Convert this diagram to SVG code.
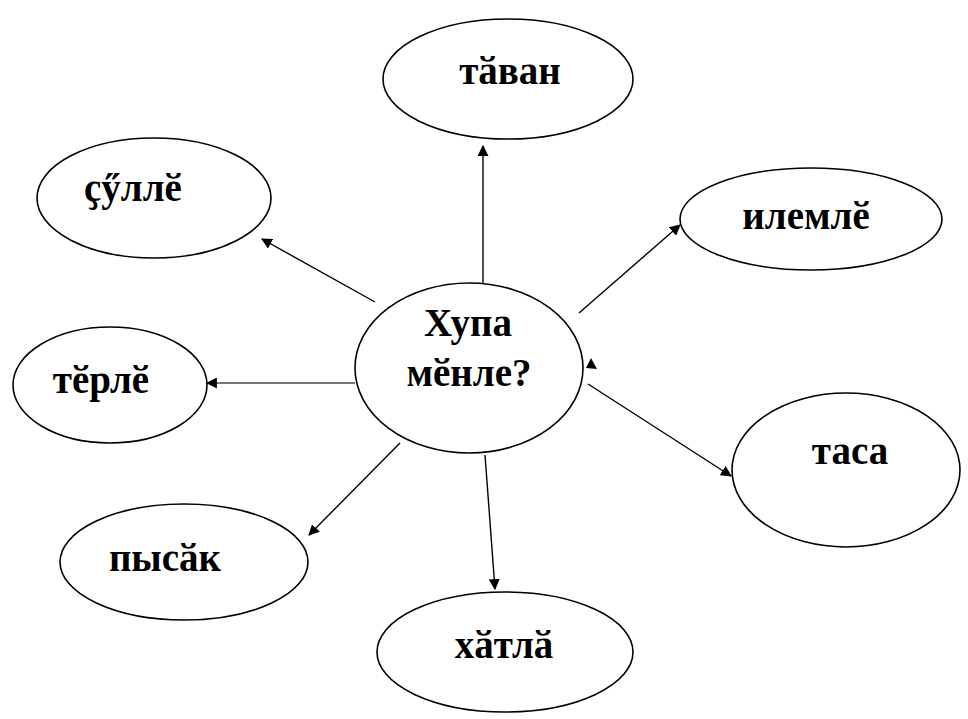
<svg xmlns="http://www.w3.org/2000/svg" width="968" height="719" viewBox="0 0 968 719">
<style>
.n{fill:#fff;stroke:#000;stroke-width:1.6}
.t{font-family:"Liberation Serif","Times New Roman",serif;font-weight:bold;font-size:39px;fill:#000;text-anchor:middle}
.c{stroke:#000;stroke-width:1.4;fill:none}
.g{stroke:#777;stroke-width:2;fill:none}
</style>
<defs>
<marker id="ah" viewBox="0 0 10 10" refX="9" refY="5" markerWidth="11" markerHeight="11" markerUnits="userSpaceOnUse" orient="auto">
<path d="M0,0 L10,5 L0,10 z" fill="#000"/>
</marker>
</defs>
<rect width="968" height="719" fill="#fff"/>
<g id="connectors">
<line class="c" x1="483" y1="286" x2="483" y2="146" marker-end="url(#ah)"/>
<line class="c" x1="375" y1="302" x2="262" y2="239" marker-end="url(#ah)"/>
<line class="g" x1="355" y1="383" x2="207" y2="383" marker-end="url(#ah)"/>
<line class="c" x1="579" y1="313" x2="680" y2="225" marker-end="url(#ah)"/>
<line class="c" x1="588" y1="384" x2="731" y2="476" marker-end="url(#ah)"/>
<path d="M591,358 L597,369 L586,368 z" fill="#000"/>
<line class="c" x1="400" y1="443" x2="309" y2="535" marker-end="url(#ah)"/>
<line class="c" x1="485" y1="455" x2="495" y2="589" marker-end="url(#ah)"/>
</g>
<g id="center">
<ellipse class="n" cx="469" cy="368" rx="114" ry="85"/>
<text class="t" x="468" y="336">Хупа</text>
<text class="t" x="469" y="386">мӗнле?</text>
</g>
<g id="tavan">
<ellipse class="n" cx="508" cy="79" rx="125" ry="60"/>
<text class="t" x="510" y="84">тӑван</text>
</g>
<g id="syulle">
<ellipse class="n" cx="154" cy="198" rx="117" ry="60"/>
<text class="t" x="133" y="201">ҫӳллӗ</text>
</g>
<g id="terle">
<ellipse class="n" cx="110" cy="385" rx="97" ry="58"/>
<text class="t" x="101" y="393">тӗрлӗ</text>
</g>
<g id="ilemle">
<ellipse class="n" cx="811" cy="219" rx="131" ry="51"/>
<text class="t" x="806" y="229">илемлӗ</text>
</g>
<g id="tasa">
<ellipse class="n" cx="846" cy="470" rx="114" ry="77"/>
<text class="t" x="850" y="464">таса</text>
</g>
<g id="pysak">
<ellipse class="n" cx="184" cy="562" rx="124" ry="58"/>
<text class="t" x="165" y="571">пысӑк</text>
</g>
<g id="khatla">
<ellipse class="n" cx="505" cy="652" rx="128" ry="60"/>
<text class="t" x="504" y="658">хӑтлӑ</text>
</g>
</svg>
